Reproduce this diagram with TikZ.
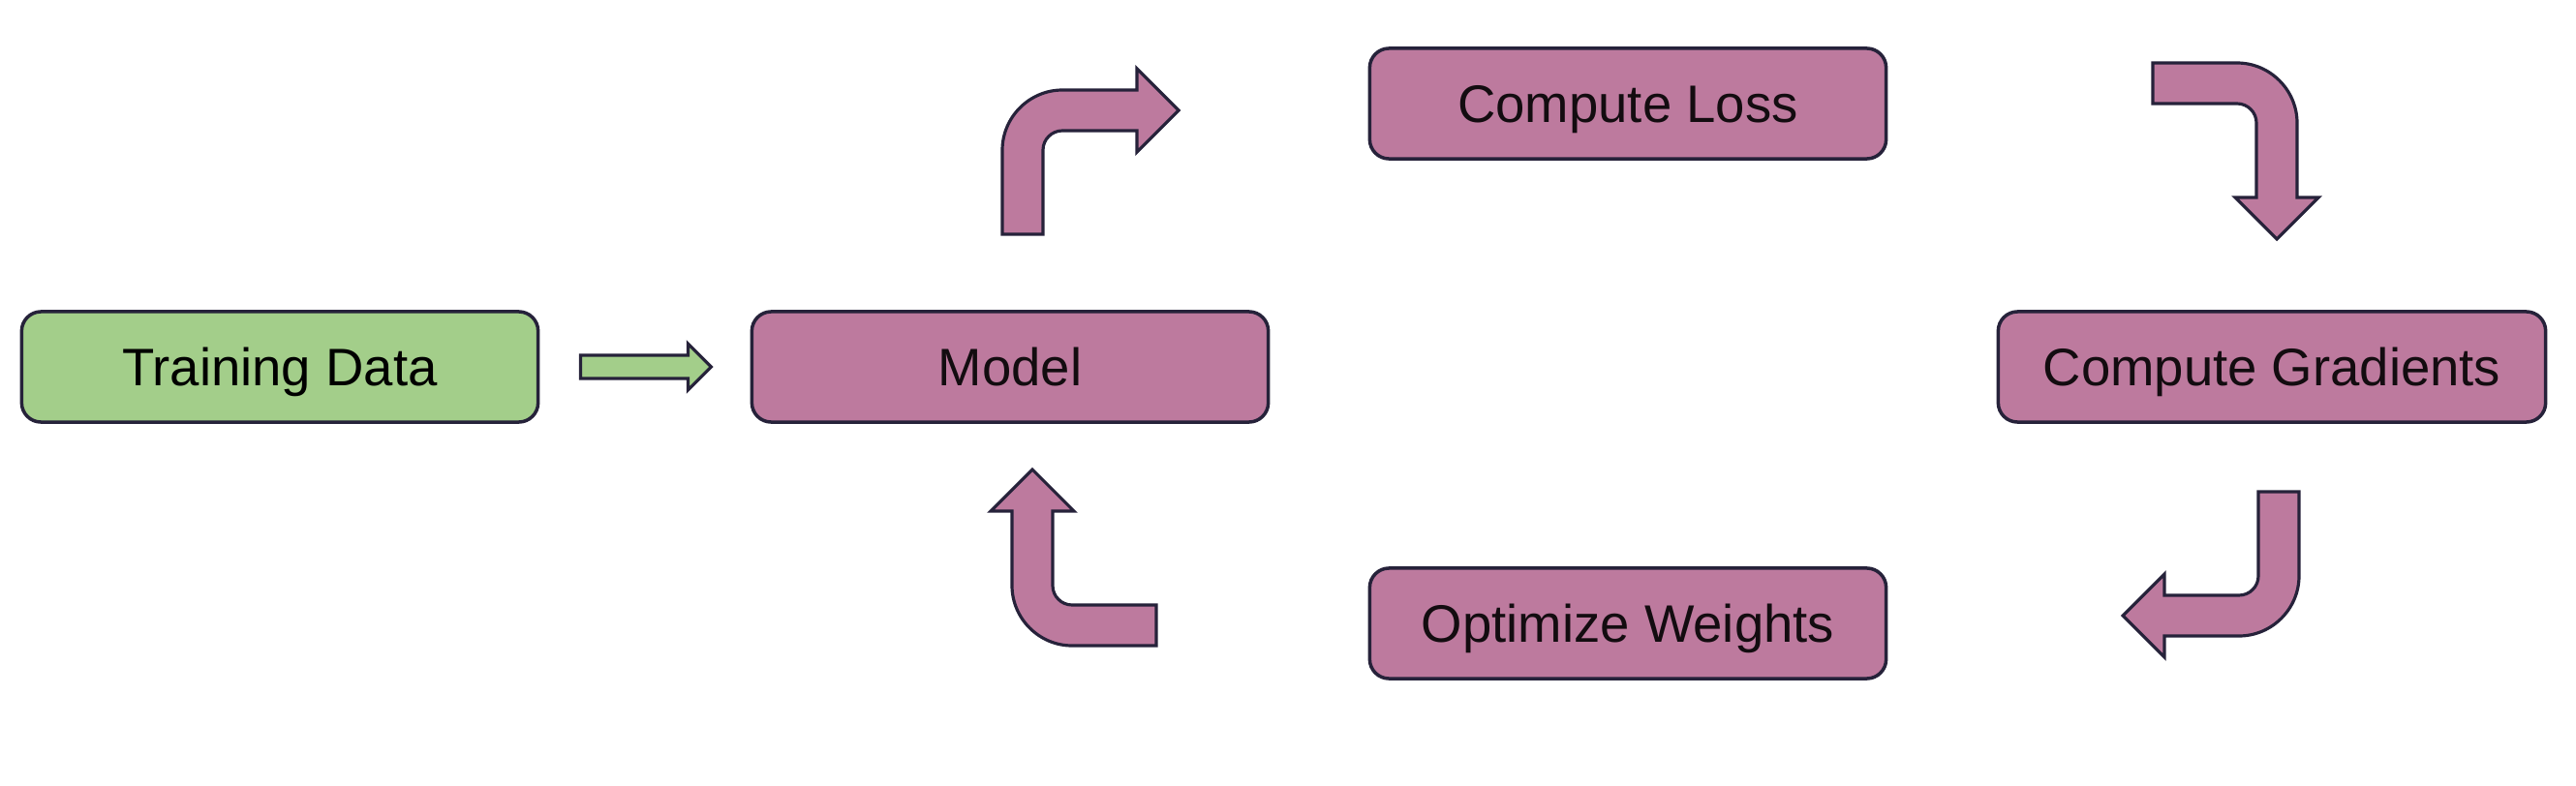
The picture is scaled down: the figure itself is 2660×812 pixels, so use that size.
\documentclass[tikz,border=0pt]{standalone}
\usepackage{fontspec}
\setmainfont{Liberation Sans}
\usepackage{xcolor}
\usepackage{tikz}
\usetikzlibrary{positioning}
\usetikzlibrary{calc}
\usetikzlibrary{shapes.geometric, arrows}
\definecolor{stepfill}{RGB}{189,122,158}
\definecolor{datafill}{RGB}{163,206,138}
\definecolor{edgeline}{RGB}{38,34,58}
\tikzstyle{stepbox} = [rectangle, rounded corners=0.2cm, minimum width=5.33cm, minimum height=1.14cm, text centered, text height=11.1pt, text depth=0pt, draw=edgeline, line width=1pt, fill=stepfill, text=black!90!stepfill, font=\fontsize{15.5}{18}\selectfont]
\tikzstyle{databox} = [stepbox, fill=datafill, text=black]
\tikzstyle{feedarrow} = [draw=edgeline, line width=0.9pt, fill=datafill, line join=miter]
\tikzstyle{turnarrow} = [draw=edgeline, line width=0.9pt, fill=stepfill, line join=miter]
% bent block arrow, #1 = outer corner, #2 = rotation
\newcommand{\bentarrow}[2]{%
  \begin{scope}[shift={#1}, rotate=#2]
    \draw[turnarrow] (0,149) -- (0,62) .. controls (0,28) and (28,0) .. (62,0) -- (139,0) -- (139,-22) -- (182,21) -- (139,64) -- (139,42) -- (62,42) .. controls (51,42) and (42,51) .. (42,62) -- (42,149) -- cycle;
  \end{scope}}

\begin{document}
\begin{tikzpicture}[x=0.01cm, y=-0.01cm]
    \useasboundingbox (0,0) rectangle (2660,812);
    \node[databox] (data) at (289,379) {Training Data};
    \node[stepbox] (model) at (1043,379) {Model};
    \node[stepbox] (loss) at (1681,107) {Compute Loss};
    \node[stepbox, minimum width=5.65cm] (grads) at (2346,379) {Compute Gradients};
    \node[stepbox] (optim) at (1681,644) {Optimize Weights};
    % data into model
    \coordinate (feed) at ($(data.east)+(42,0)$);
    \draw[feedarrow] (feed) ++(0,-12) -- ++(111,0) -- ++(0,-12) -- ++(24,24) -- ++(-24,24) -- ++(0,-12) -- ++(-111,0) -- cycle;
    % training loop
    \bentarrow{(1035,93)}{0}
    \bentarrow{(2372,65)}{-90}
    \bentarrow{(2374,657)}{180}
    \bentarrow{(1045,667)}{90}
\end{tikzpicture}
\end{document}
